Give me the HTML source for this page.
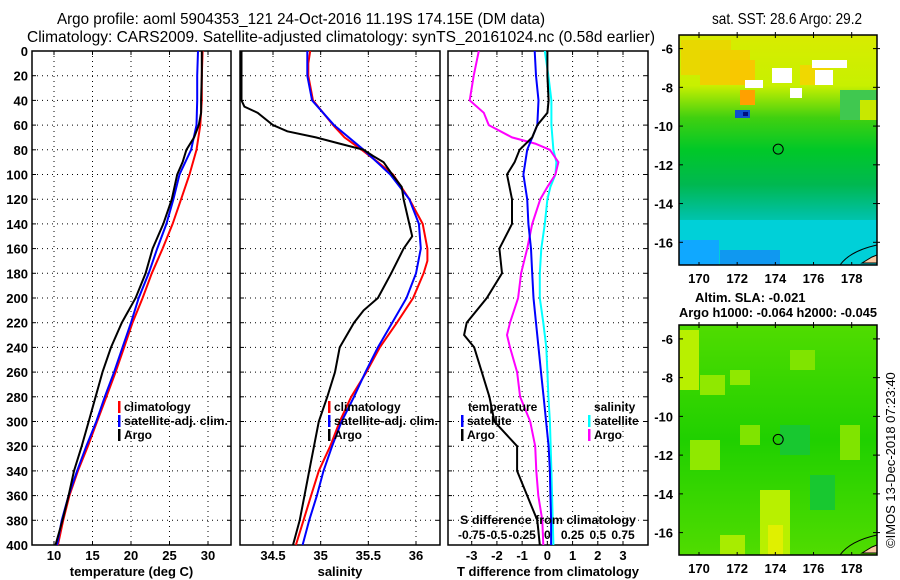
<!DOCTYPE html>
<html><head><meta charset="utf-8"><style>
body{margin:0;background:#fff;}
svg{display:block;font-family:"Liberation Sans",sans-serif;}
.t{font-weight:bold;font-size:13px;}
.l{font-weight:bold;font-size:12px;}
.ti{font-family:"Liberation Sans Narrow","Liberation Sans",sans-serif;font-size:16px;}
</style></head><body>
<svg id="c" width="900" height="580" viewBox="0 0 900 580" xmlns="http://www.w3.org/2000/svg">
<text class="ti" x="57" y="24" textLength="488" lengthAdjust="spacingAndGlyphs">Argo profile: aoml 5904353_121 24-Oct-2016 11.19S 174.15E (DM data)</text>
<text class="ti" x="27" y="42" textLength="628" lengthAdjust="spacingAndGlyphs">Climatology: CARS2009. Satellite-adjusted climatology: synTS_20161024.nc (0.58d earlier)</text>
<text class="ti" x="712" y="24" textLength="150" lengthAdjust="spacingAndGlyphs">sat. SST: 28.6 Argo: 29.2</text>
<text class="t" x="695" y="302">Altim. SLA: -0.021</text>
<text class="t" x="679" y="317" textLength="198" lengthAdjust="spacingAndGlyphs">Argo h1000: -0.064 h2000: -0.045</text>
<text transform="translate(895,548) rotate(-90)" font-size="13">©IMOS 13-Dec-2018 07:23:40</text>
<g id="g"></g>
</svg>
<script>
// depths (m)
const depths=[0,20,40,60,80,100,120,140,160,180,200,220,240,260,280,300,320,340,360,380,400];
const tClim=[29.3,29.2,29.2,29.0,28.5,27.6,26.5,25.4,24.1,22.7,21.5,20.2,19.1,18.0,16.8,15.6,14.4,13.1,12.0,11.2,10.5];
const tSat=[28.7,28.6,28.6,28.5,27.8,26.3,25.5,24.6,23.4,22.3,21.0,20.0,18.9,17.8,16.6,15.5,14.2,13.0,11.9,11.0,10.4];
const tArgoDepth=[0,20,40,50,60,70,80,90,100,120,140,160,180,200,220,240,260,280,300,320,340,360,380,400];
const tArgo=[29.2,29.2,29.1,29.1,28.8,28.2,27.2,26.7,26.0,25.3,24.2,22.8,21.9,20.6,18.8,17.4,16.3,15.4,14.5,13.6,12.6,11.9,11.1,10.2];
const sClimDepth=[0,10,20,40,60,70,80,90,100,120,140,160,170,180,200,220,240,260,280,300,320,340,360,380,400];
const sClim=[34.89,34.87,34.87,34.92,35.13,35.25,35.43,35.6,35.76,35.93,36.07,36.12,36.12,36.08,35.97,35.8,35.62,35.48,35.32,35.2,35.1,34.98,34.9,34.82,34.74];
const sSat=[34.86,34.86,34.91,35.14,35.45,35.73,35.93,36.03,36.05,36.0,35.9,35.75,35.6,35.47,35.35,35.22,35.12,35.03,34.96,34.88,34.81];
const sArgoDepth=[0,20,40,45,50,60,65,70,75,80,85,90,100,110,120,140,150,160,180,200,210,220,240,260,280,300,320,340,360,380,400];
const sArgo=[34.17,34.17,34.17,34.2,34.34,34.5,34.65,34.95,35.2,35.45,35.55,35.66,35.75,35.85,35.87,35.93,35.96,35.87,35.74,35.6,35.45,35.35,35.2,35.15,35.07,34.98,34.93,34.88,34.83,34.78,34.71];
const dtArgoDepth=[0,20,40,50,60,70,80,90,100,120,140,160,180,200,220,230,240,260,280,300,320,340,360,380,400];
const dtArgo=[0,0,0.05,0,-0.4,-0.6,-1.1,-1.3,-1.6,-1.4,-1.4,-1.9,-1.8,-2.4,-3.2,-3.3,-2.9,-2.6,-2.3,-2.1,-1.2,-1.2,-0.8,-0.4,-0.3];
const dtSat=[-0.5,-0.45,-0.35,-0.4,-0.8,-0.95,-0.8,-0.75,-0.65,-0.6,-0.55,-0.45,-0.35,-0.25,-0.15,-0.05,0.05,0.1,0.12,0.15,0.15];
const dsArgoDepth=[0,20,40,50,60,70,75,80,90,100,110,120,140,160,180,200,220,230,240,260,280,300,320,340,360,380,400];
const dsArgo=[-0.68,-0.73,-0.77,-0.63,-0.58,-0.35,-0.12,0.025,0.11,0.08,0,-0.07,-0.15,-0.2,-0.26,-0.29,-0.37,-0.4,-0.37,-0.3,-0.27,-0.17,-0.12,-0.11,-0.09,-0.05,-0.04];
const dsSatDepth=[0,20,40,60,80,90,100,110,120,140,160,180,200,220,240,260,280,300,340,400];
const dsSat=[-0.025,0.01,0.04,0.04,0.06,0.09,0.08,0.03,0,-0.025,-0.06,-0.075,-0.075,-0.04,-0.01,0,0.01,0.025,0.04,0.06];
const depthTicks=[0,20,40,60,80,100,120,140,160,180,200,220,240,260,280,300,320,340,360,380,400];
const tTicks=[10,15,20,25,30];
const sTicks=[34.5,35,35.5,36];
const dTicks=[-3,-2,-1,0,1,2,3];
const dsTickLabels=["-0.75","-0.5","-0.25","0","0.25","0.5","0.75"];
const dsTicks=[-0.75,-0.5,-0.25,0,0.25,0.5,0.75];
const latTicks=[-6,-8,-10,-12,-14,-16];
const lonTicks=[170,172,174,176,178];

const NS="http://www.w3.org/2000/svg";
const G=document.getElementById('g');
function el(tag,at,parent){const e=document.createElementNS(NS,tag);for(const k in at)e.setAttribute(k,at[k]);(parent||G).appendChild(e);return e;}
const Y0=51,Y1=545;
const yD=d=>Y0+(d/400)*(Y1-Y0);
function lin(a0,a1,p0,p1){return v=>p0+(v-a0)/(a1-a0)*(p1-p0);}
const panels=[
 {x0:32,x1:231,f:lin(10,30,54,208),ticks:tTicks,lab:"temperature (deg C)",name:"temperature"},
 {x0:240,x1:440,f:lin(34.5,36,273,416),ticks:sTicks,lab:"salinity",name:"salinity"},
 {x0:448,x1:648,f:lin(-3,3,471.7,623),ticks:dTicks,lab:"T difference from climatology",name:"difference"}];
panels.forEach((p,i)=>{
  const g=el('g',{});
  
  
  depthTicks.forEach(d=>{
    if(d>0&&d<400){const l=el('line',{x1:p.x0,x2:p.x1,y1:yD(d),y2:yD(d),stroke:'#000','stroke-dasharray':'1,4'},g);
      }
    el('line',{x1:p.x0,x2:p.x0+4,y1:yD(d),y2:yD(d),stroke:'#000'},g);
    el('line',{x1:p.x1-4,x2:p.x1,y1:yD(d),y2:yD(d),stroke:'#000'},g);
    if(i==0){const t=el('text',{x:28,y:yD(d)+5,'text-anchor':'end',class:'t'},g);t.textContent=d;
      }
  });
  p.ticks.forEach(v=>{
    const x=p.f(v);
    const l=el('line',{x1:x,x2:x,y1:Y0,y2:Y1,stroke:'#000','stroke-dasharray':'1,4'},g);
    
    el('line',{x1:x,x2:x,y1:Y0,y2:Y0+4,stroke:'#000'},g);
    el('line',{x1:x,x2:x,y1:Y1-4,y2:Y1,stroke:'#000'},g);
    const t=el('text',{x:x,y:560,'text-anchor':'middle',class:'t'},g);t.textContent=v;
    
  });
  const r=el('rect',{x:p.x0,y:Y0,width:p.x1-p.x0,height:Y1-Y0,fill:'none',stroke:'#000','stroke-width':1.5},g);
  
  const t=el('text',{x:(p.x0+p.x1)/2,y:576,'text-anchor':'middle',class:'t'},g);t.textContent=p.lab;
  
});
function line(ds,vs,f,color,name,w){
  const pts=ds.map((d,i)=>f(vs[i]).toFixed(1)+','+yD(d).toFixed(1)).join(' ');
  const e=el('polyline',{points:pts,fill:'none',stroke:color,'stroke-width':w||2});
  
}
const fT=panels[0].f,fS=panels[1].f,fD=panels[2].f,fDS=v=>fD(v*4);
line(depths,tClim,fT,'#f00','temperature-climatology-line');
line(depths,tSat,fT,'#00f','temperature-satellite-line');
line(tArgoDepth,tArgo,fT,'#000','temperature-argo-line');
line(sClimDepth,sClim,fS,'#f00','salinity-climatology-line');
line(depths,sSat,fS,'#00f','salinity-satellite-line');
line(sArgoDepth,sArgo,fS,'#000','salinity-argo-line');
line(dsSatDepth,dsSat,fDS,'#0ff','salinity-satellite-diff-line');
line(dsArgoDepth,dsArgo,fDS,'#f0f','salinity-argo-diff-line');
line(depths,dtSat,fD,'#00f','temperature-satellite-diff-line');
line(dtArgoDepth,dtArgo,fD,'#000','temperature-argo-diff-line');
// S difference axis labels
const sl=el('text',{x:460,y:524,class:'l',textLength:176,lengthAdjust:'spacingAndGlyphs'});sl.textContent='S difference from climatology';

dsTicks.forEach((v,i)=>{const t=el('text',{x:fDS(v),y:539,'text-anchor':'middle',class:'l'});t.textContent=dsTickLabels[i];
  });
// legends
function leg(x,y,color,txt,name,len){
  el('rect',{x:x,y:y-10,width:2.5,height:12,fill:color});
  const at={x:x+6,y:y,class:'l'};
  if(len){at.textLength=len;at.lengthAdjust='spacingAndGlyphs';}
  const t=el('text',at);t.textContent=txt;
  
}
leg(118,411,'#f00','climatology','legend-climatology');
leg(118,425,'#00f','satellite-adj. clim.','legend-satellite-adj',104);
leg(118,439,'#000','Argo','legend-argo');
leg(328,411,'#f00','climatology','legend-salinity-climatology');
leg(328,425,'#00f','satellite-adj. clim.','legend-salinity-satellite-adj',104);
leg(328,439,'#000','Argo','legend-salinity-argo');
const th=el('text',{x:468,y:411,class:'l'});th.textContent='temperature';
const sh=el('text',{x:594,y:411,class:'l'});sh.textContent='salinity';
leg(461,425,'#00f','satellite','legend-t-diff-satellite');
leg(461,439,'#000','Argo','legend-t-diff-argo');
leg(588,425,'#0ff','satellite','legend-s-diff-satellite');
leg(588,439,'#f0f','Argo','legend-s-diff-argo');

// maps
const lonF=lin(170,178,699,851.7);
function map(y0,y1,latA,latB,name,kind){
  const latF=lin(-6,-16,latA,latB);
  const g=el('g',{});
  const id=name+'-grad';
  const defs=el('defs',{},g);
  const lg=el('linearGradient',{id:id,x1:0,y1:0,x2:0,y2:1},defs);
  const stops=kind==1?[[0,'#d8ec00'],[0.22,'#c8f000'],[0.36,'#40d010'],[0.5,'#00c828'],[0.65,'#00b850'],[0.78,'#00c0a0'],[0.88,'#00d0d0'],[1,'#10c8e8']]
    :[[0,'#50dc00'],[0.5,'#20d000'],[1,'#50dc00']];
  stops.forEach(s=>el('stop',{offset:s[0],'stop-color':s[1]},lg));
  el('rect',{x:679,y:y0,width:198,height:y1-y0,fill:'url(#'+id+')'},g);
  if(kind==1){
    [[681,40,50,35,'#e8d800'],[700,50,50,35,'#f0d000'],[730,60,25,25,'#f8c800'],[740,90,15,15,'#ffa000'],[800,65,30,20,'#f0d800'],[815,70,18,15,'#fff'],[772,68,20,15,'#fff'],[812,60,35,8,'#fff'],[745,80,18,8,'#fff'],[790,88,12,10,'#fff'],[735,110,15,8,'#1050d0'],[743,112,5,4,'#001080'],
     [840,90,37,30,'#40c850'],[860,100,17,20,'#c8e800'],[679,220,198,45,'#00d0d8'],[679,240,40,25,'#10a8ff'],[720,250,60,15,'#1098f0']].forEach(r=>el('rect',{x:r[0],y:r[1],width:r[2],height:r[3],fill:r[4]},g));
  } else {
    [[679,y0+5,20,60,'#b8f000'],[700,y0+50,25,20,'#90e800'],[730,y0+45,20,15,'#90e800'],[690,y0+115,30,30,'#90e800'],[740,y0+100,20,20,'#80e400'],[760,y0+165,30,65,'#b8f000'],[768,y0+200,15,30,'#e0f000'],[720,y0+210,25,20,'#a8ec00'],[840,y0+100,20,35,'#80e400'],[790,y0+25,25,20,'#80e400'],[810,y0+150,25,35,'#18c830'],[780,y0+100,30,30,'#18c830']].forEach(r=>el('rect',{x:r[0],y:r[1],width:r[2],height:r[3],fill:r[4]},g));
  }
  el('path',{d:`M862 ${y1-2} l10 -6 l5 -2 l0 8 z`,fill:'#f8c8a0',stroke:'#000','stroke-width':1},g);
  el('path',{d:`M840 ${y1} q10 -14 37 -20`,fill:'none',stroke:'#000','stroke-width':1},g);
  const circ=el('circle',{cx:lonF(174.15),cy:latF(-11.19),r:5,fill:'none',stroke:'#000','stroke-width':1},g);
  
  el('rect',{x:679,y:y0,width:198,height:y1-y0,fill:'none',stroke:'#000','stroke-width':1.5},g);
  latTicks.forEach(v=>{const y=latF(v);
    el('line',{x1:679,x2:683,y1:y,y2:y,stroke:'#000'},g);el('line',{x1:873,x2:880,y1:y,y2:y,stroke:'#000'},g);
    const t=el('text',{x:673,y:y+5,'text-anchor':'end',class:'t'},g);t.textContent=v;
    });
  lonTicks.forEach(v=>{const x=lonF(v);
    el('line',{x1:x,x2:x,y1:y0-3,y2:y0+3,stroke:'#000'},g);el('line',{x1:x,x2:x,y1:y1-3,y2:y1,stroke:'#000'},g);
    const t=el('text',{x:x,y:y1+18,'text-anchor':'middle',class:'t'},g);t.textContent=v;
    });
}
map(35,265,48.6,242.3,'sst-map',1);
map(325,555,338.9,532.6,'sla-map',2);
</script>
</body></html>
